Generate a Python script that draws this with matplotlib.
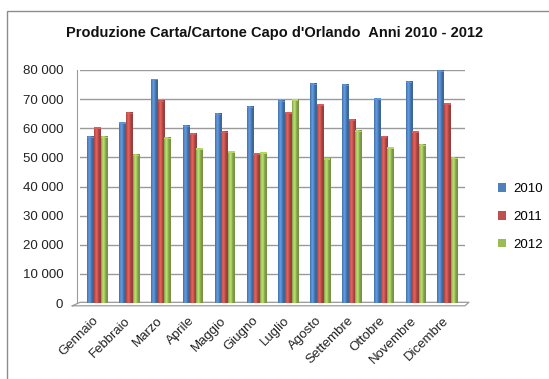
import numpy as np
import matplotlib.pyplot as plt
from matplotlib.patches import Rectangle, Patch
from matplotlib.colors import to_rgb
from matplotlib.ticker import FuncFormatter
from matplotlib.transforms import ScaledTranslation

plt.rcParams['font.family'] = ['Liberation Sans', 'DejaVu Sans']

mesi = ['Gennaio', 'Febbraio', 'Marzo', 'Aprile', 'Maggio', 'Giugno',
        'Luglio', 'Agosto', 'Settembre', 'Ottobre', 'Novembre', 'Dicembre']
anni = ['2010', '2011', '2012']
prod_2010 = [57000, 62100, 76900, 60900, 64900, 67400,
             69500, 75300, 74900, 70300, 75900, 79700]
prod_2011 = [60400, 65400, 69400, 58300, 58800, 51400,
             65500, 68300, 63100, 57200, 59000, 68500]
prod_2012 = [57000, 50900, 56700, 53200, 52100, 51800,
             69900, 49700, 59200, 53400, 54300, 49800]
colori = ['#4F81BD', '#C0504D', '#9BBB59']

fig = plt.figure(figsize=(5.49, 3.79), dpi=100)
# outer chart frame (open at right/bottom)
fig.patches.append(Rectangle((7 / 549, -0.1), 1.2, 1 - 11 / 379 + 0.1,
                             transform=fig.transFigure, fill=False,
                             edgecolor='#8c8c8c', lw=1.0))

ax = fig.add_axes([80 / 549, 76 / 379, 385 / 549, 233 / 379])

# cylinder-like shading profile across the bar width
prof_x = np.linspace(0, 1, 24)
shade = 0.78 + 0.42 * np.exp(-((prof_x - 0.35) / 0.28) ** 2)

def bar_cilindro(x0, w, h, colore):
    rgb = np.array(to_rgb(colore))
    img = np.clip(rgb[None, :] * shade[:, None], 0, 1)[None, :, :]
    ax.imshow(img, extent=(x0, x0 + w, 0, h), aspect='auto',
              interpolation='bilinear', zorder=3)
    ax.add_patch(Rectangle((x0, h - 500), w, 500, color=np.clip(rgb * 1.15, 0, 1),
                           lw=0, zorder=4))

x = np.arange(len(mesi))
w = 0.21
for i, serie in enumerate([prod_2010, prod_2011, prod_2012]):
    for xi, v in zip(x, serie):
        bar_cilindro(xi - 1.5 * w + i * w, w, v, colori[i])

ax.set_xlim(-0.55, len(mesi) - 0.45)
ax.set_ylim(0, 80000)
ax.set_yticks(np.arange(0, 80001, 10000))
ax.yaxis.set_major_formatter(FuncFormatter(lambda v, p: f'{int(v):,}'.replace(',', ' ')))
ax.grid(axis='y', color='#9a9a9a', lw=1.0, zorder=0)
ax.set_axisbelow(True)
for s in ['top', 'right', 'bottom']:
    ax.spines[s].set_visible(False)
ax.spines['left'].set_color('#9a9a9a')
ax.spines['left'].set_position(('outward', 2))

# floor edge
ax.plot([-0.02, 1.0, 1.01, 0.0, -0.02], [-0.012, -0.012, 0.003, 0.003, -0.012],
        transform=ax.transAxes, color='#9a9a9a', lw=0.9, clip_on=False)

ax.tick_params(axis='y', length=0, pad=10, labelsize=9.5, colors='#222222')
ax.tick_params(axis='x', length=0, pad=7, labelsize=9.5, colors='#222222')
ax.set_xticks(x)
ax.set_xticklabels(mesi, rotation=45, ha='right', rotation_mode='anchor')
shift = ScaledTranslation(-5 / 100, -2 / 100, fig.dpi_scale_trans)
for lab in ax.get_xticklabels():
    lab.set_transform(lab.get_transform() + shift)

fig.text(0.5, 1 - 33 / 379, "Produzione Carta/Cartone Capo d'Orlando  Anni 2010 - 2012",
         ha='center', va='center', fontsize=10.5, fontweight='bold', color='#111111')

handles = [Patch(facecolor=c, edgecolor='none') for c in colori]
fig.legend(handles, anni, loc='center left', bbox_to_anchor=(486 / 549, 1 - 217 / 379),
           frameon=False, handlelength=0.6, handleheight=0.6, handletextpad=0.6,
           labelspacing=1.2, fontsize=9.5)

fig.savefig('out.png', dpi=100)
